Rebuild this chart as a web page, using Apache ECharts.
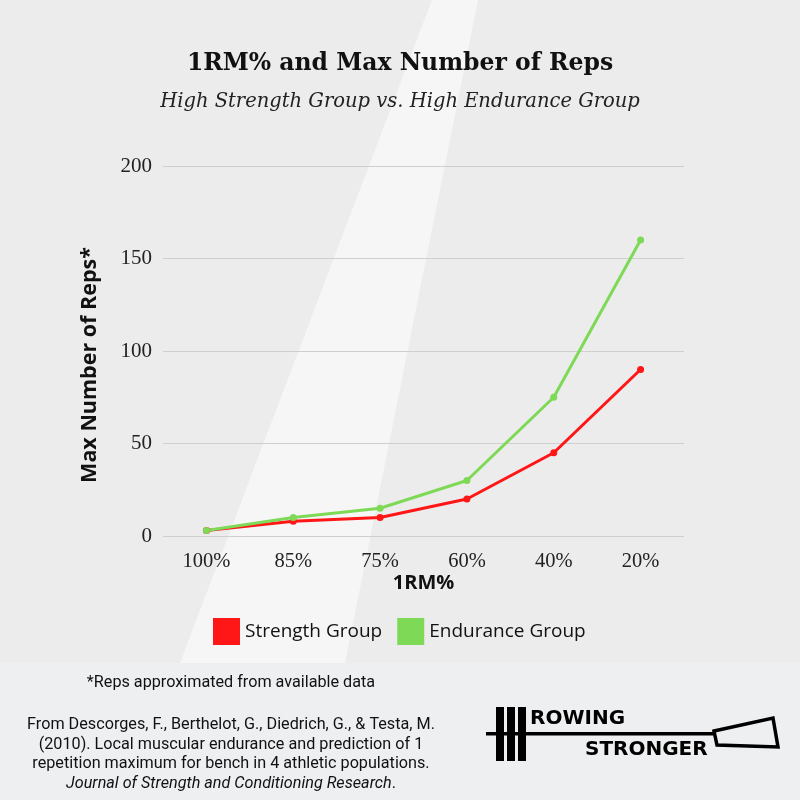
<!DOCTYPE html>
<html>
<head>
<meta charset="utf-8">
<script src="https://cdn.jsdelivr.net/npm/echarts@6/dist/echarts.min.js"></script>
<style>
html,body{margin:0;padding:0;background:#ececec;}
#chart{width:800px;height:800px;}
</style>
</head>
<body>
<div id="chart"></div>
<script>
const categories = ['100%', '85%', '75%', '60%', '40%', '20%'];
const strengthReps = [3, 8, 10, 20, 45, 90];
const enduranceReps = [3, 10, 15, 30, 75, 160];
const seriesNames = ['Strength Group', 'Endurance Group'];
const seriesColors = ['#ff1616', '#7ed957'];
const yMin = 0, yMax = 200, yStep = 50;
const titleText = '1RM% and Max Number of Reps';
const subtitleText = 'High Strength Group vs. High Endurance Group';
const xName = '1RM%';
const yName = 'Max Number of Reps*';
const footnote = '*Reps approximated from available data';
const citation = [
  'From Descorges, F., Berthelot, G., Diedrich, G., & Testa, M.',
  '(2010). Local muscular endurance and prediction of 1',
  'repetition maximum for bench in 4 athletic populations.'
];
const journal = 'Journal of Strength and Conditioning Research';

const chart = echarts.init(document.getElementById('chart'));
const sansNarrow = 'Roboto, "Open Sans", sans-serif';
const noteSize = 16.2;

const graphics = [
  // faint boat stripe of the background photo
  { type: 'polygon', z: -10, silent: true,
    shape: { points: [[180, 663], [345, 663], [478, 0], [432, 0]] },
    style: { fill: 'rgba(255,255,255,0.55)' } },
  // bottom band
  { type: 'rect', z: -5, silent: true,
    shape: { x: 0, y: 663, width: 800, height: 137 },
    style: { fill: '#eeeff1' } },
  { type: 'text', z: 5, x: 231, y: 683,
    style: { text: footnote, align: 'center', verticalAlign: 'middle',
      fontSize: noteSize, fontFamily: sansNarrow, fill: '#111' } }
];
citation.forEach((line, i) => {
  graphics.push({ type: 'text', z: 5, x: 231, y: 725 + i * 19.5,
    style: { text: line, align: 'center', verticalAlign: 'middle',
      fontSize: noteSize, fontFamily: sansNarrow, fill: '#111' } });
});
graphics.push({ type: 'text', z: 5, x: 231, y: 725 + 3 * 19.5,
  style: { rich: { j: { fontSize: noteSize, fontFamily: sansNarrow, fontStyle: 'italic', fill: '#111' },
                   p: { fontSize: noteSize, fontFamily: sansNarrow, fill: '#111' } },
    text: '{j|' + journal + '}{p|.}', align: 'center', verticalAlign: 'middle' } });

// Rowing Stronger logo
const logoFont = '"DejaVu Sans", sans-serif';
const logo = [
  { type: 'rect', shape: { x: 496, y: 707, width: 8, height: 54 }, style: { fill: '#000' } },
  { type: 'rect', shape: { x: 507, y: 707, width: 8, height: 54 }, style: { fill: '#000' } },
  { type: 'rect', shape: { x: 518, y: 707, width: 8, height: 54 }, style: { fill: '#000' } },
  { type: 'rect', shape: { x: 486, y: 732, width: 229, height: 3.5 }, style: { fill: '#000' } },
  { type: 'polygon', shape: { points: [[714, 731], [773, 718], [778, 747], [717, 745]] },
    style: { fill: 'none', stroke: '#000', lineWidth: 3.5 } },
  { type: 'text', x: 530, y: 729, style: { text: 'ROWING', fontSize: 20, fontWeight: 'bold',
      fontFamily: logoFont, fill: '#000', verticalAlign: 'bottom' } },
  { type: 'text', x: 585, y: 760, style: { text: 'STRONGER', fontSize: 20, fontWeight: 'bold',
      fontFamily: logoFont, fill: '#000', verticalAlign: 'bottom' } }
];
logo.forEach(g => { g.z = 6; graphics.push(g); });

chart.setOption({
  backgroundColor: '#ececec',
  animation: false,
  title: [
    { text: titleText, left: 'center', top: 47,
      textStyle: { fontFamily: '"DejaVu Serif", serif', fontWeight: 'bold', fontSize: 23.5, color: '#111' } },
    { text: subtitleText, left: 'center', top: 87,
      textStyle: { fontFamily: '"DejaVu Serif", serif', fontStyle: 'italic', fontWeight: 'normal', fontSize: 19.5, color: '#222' } }
  ],
  legend: {
    left: 208, top: 613,
    itemWidth: 27, itemHeight: 27, itemGap: 15,
    icon: 'rect',
    textStyle: { fontFamily: '"Open Sans", sans-serif', fontSize: 19, fontWeight: 500, color: '#111' },
    data: seriesNames
  },
  grid: { left: 163, right: 116, top: 166, bottom: 264 },
  xAxis: {
    type: 'category',
    data: categories,
    boundaryGap: true,
    axisLine: { show: false },
    axisTick: { show: false },
    axisLabel: { margin: 15, fontFamily: '"Liberation Serif", serif', fontSize: 20.5, color: '#222' },
    name: xName,
    nameLocation: 'middle',
    nameGap: 37,
    nameTextStyle: { fontFamily: '"Open Sans", sans-serif', fontWeight: 'bold', fontSize: 20, color: '#111', verticalAlign: 'top' }
  },
  yAxis: {
    type: 'value',
    min: yMin, max: yMax, interval: yStep,
    axisLine: { show: false },
    axisTick: { show: false },
    splitLine: { lineStyle: { color: '#cfcfcf', width: 1.2 } },
    axisLabel: { margin: 11, fontFamily: '"Liberation Serif", serif', fontSize: 21, color: '#222' },
    name: yName,
    nameLocation: 'middle',
    nameGap: 62,
    nameTextStyle: { fontFamily: '"Open Sans", sans-serif', fontWeight: 'bold', fontSize: 21.5, color: '#111', padding: [0, 28, 0, 0] }
  },
  series: [
    { name: seriesNames[0], type: 'line', data: strengthReps,
      symbol: 'circle', symbolSize: 7,
      lineStyle: { color: seriesColors[0], width: 3 },
      itemStyle: { color: seriesColors[0] } },
    { name: seriesNames[1], type: 'line', data: enduranceReps,
      symbol: 'circle', symbolSize: 7,
      lineStyle: { color: seriesColors[1], width: 3 },
      itemStyle: { color: seriesColors[1] } }
  ],
  graphic: graphics
});
</script>
</body>
</html>
